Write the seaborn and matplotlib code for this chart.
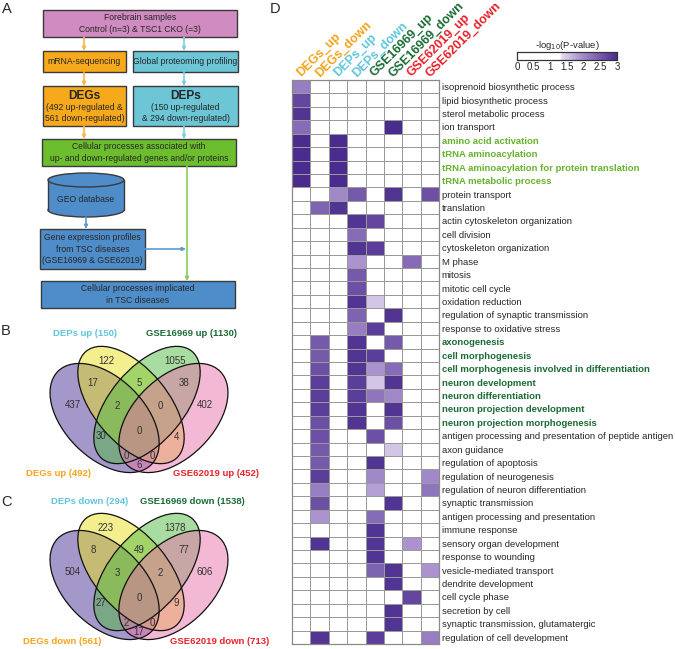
import numpy as np
import pandas as pd
import matplotlib
matplotlib.use('Agg')
import matplotlib.pyplot as plt
import seaborn as sns
from matplotlib.colors import LinearSegmentedColormap
from matplotlib.patches import Rectangle, Ellipse

sns.set_style('white')
plt.rcParams['font.family'] = ['Liberation Sans', 'DejaVu Sans']

W, H = 675, 649

# ---------------- data: heatmap (D) ----------------
datasets = ['DEGs_up', 'DEGs_down', 'DEPs_up', 'DEPs_down',
            'GSE16969_up', 'GSE16969_down', 'GSE62019_up', 'GSE62019_down']
dataset_colors = ['#F5A31A', '#F5A31A', '#5EC6DC', '#5EC6DC',
                  '#1B6B35', '#1B6B35', '#E8212A', '#E8212A']

processes = [
    'isoprenoid biosynthetic process', 'lipid biosynthetic process',
    'sterol metabolic process', 'ion transport', 'amino acid activation',
    'tRNA aminoacylation', 'tRNA aminoacylation for protein translation',
    'tRNA metabolic process', 'protein transport', 'translation',
    'actin cytoskeleton organization', 'cell division',
    'cytoskeleton organization', 'M phase', 'mitosis', 'mitotic cell cycle',
    'oxidation reduction', 'regulation of synaptic transmission',
    'response to oxidative stress', 'axonogenesis', 'cell morphogenesis',
    'cell morphogenesis involved in differentiation', 'neuron development',
    'neuron differentiation', 'neuron projection development',
    'neuron projection morphogenesis',
    'antigen processing and presentation of peptide antigen', 'axon guidance',
    'regulation of apoptosis', 'regulation of neurogenesis',
    'regulation of neuron differentiation', 'synaptic transmission',
    'antigen processing and presentation', 'immune response',
    'sensory organ development', 'response to wounding',
    'vesicle-mediated transport', 'dendrite development', 'cell cycle phase',
    'secretion by cell', 'synaptic transmission, glutamatergic',
    'regulation of cell development']

light_green_terms = ['amino acid activation', 'tRNA aminoacylation',
                     'tRNA aminoacylation for protein translation',
                     'tRNA metabolic process']
dark_green_terms = ['axonogenesis', 'cell morphogenesis',
                    'cell morphogenesis involved in differentiation',
                    'neuron development', 'neuron differentiation',
                    'neuron projection development',
                    'neuron projection morphogenesis']

# -log10(P-value), 0 = not significant
degs_up = [2.1, 2.7, 2.9, 2.3, 3.0, 3.0, 3.0,
           3.0, 0, 0, 0, 0, 0, 0,
           0, 0, 0, 0, 0, 0, 0,
           0, 0, 0, 0, 0, 0, 0,
           0, 0, 0, 0, 0, 0, 0,
           0, 0, 0, 0, 0, 0, 0]
degs_down = [0, 0, 0, 0, 0, 0, 0,
             0, 0, 2.4, 0, 0, 0, 0,
             0, 0, 0, 0, 0, 2.5, 2.5,
             2.6, 2.8, 2.8, 2.8, 2.6, 2.6, 2.5,
             2.5, 2.8, 2.1, 2.6, 1.9, 0, 2.9,
             0, 0, 0, 0, 0, 0, 2.9]
deps_up = [0, 0, 0, 0, 3.0, 3.0, 3.0,
           3.0, 2.0, 2.9, 0, 0, 0, 0,
           0, 0, 0, 0, 0, 0, 0,
           0, 0, 0, 0, 0, 0, 0,
           0, 0, 0, 0, 0, 0, 0,
           0, 0, 0, 0, 0, 0, 0]
deps_down = [0, 0, 0, 0, 0, 0, 0,
             0, 2.5, 0, 2.9, 2.3, 2.9, 1.9,
             2.5, 2.6, 2.9, 2.4, 2.1, 2.9, 2.9,
             2.9, 2.8, 2.8, 2.9, 2.9, 0, 0,
             0, 0, 0, 0, 0, 0, 0,
             0, 0, 0, 0, 0, 0, 0]
gse16969_up = [0, 0, 0, 0, 0, 0, 0,
               0, 0, 0, 2.7, 0, 2.8, 0,
               0, 0, 1.5, 0, 2.8, 0, 2.8,
               1.9, 1.5, 2.2, 0, 0, 2.6, 0,
               2.9, 2.0, 1.8, 0, 2.3, 2.9, 2.9,
               2.9, 2.4, 0, 0, 0, 0, 2.8]
gse16969_down = [0, 0, 0, 3.0, 0, 0, 0,
                 0, 2.9, 0, 0, 0, 0, 0,
                 0, 0, 0, 2.9, 0, 2.5, 0,
                 2.3, 2.9, 2.0, 2.9, 2.6, 0, 1.5,
                 0, 0, 0, 2.9, 0, 0, 0,
                 0, 2.9, 2.9, 0, 2.9, 2.9, 0]
gse62019_up = [0, 0, 0, 0, 0, 0, 0,
               0, 0, 0, 0, 0, 0, 2.3,
               0, 0, 0, 0, 0, 0, 0,
               0, 0, 0, 0, 0, 0, 0,
               0, 0, 0, 0, 0, 0, 1.9,
               0, 0, 0, 2.7, 0, 0, 0]
gse62019_down = [0, 0, 0, 0, 0, 0, 0,
                 0, 2.6, 0, 0, 0, 0, 0,
                 0, 0, 0, 0, 0, 0, 0,
                 0, 0, 0, 0, 0, 0, 0,
                 0, 2.0, 2.2, 0, 0, 0, 0,
                 0, 1.9, 0, 0, 0, 0, 2.1]

cbar_ticks = [0, 0.5, 1, 1.5, 2, 2.5, 3]

# ---------------- data: Venn (B, C) ----------------
# regions: sets involved (D=DEGs, P=DEPs, A=GSE16969, B=GSE62019)
venn_regions = ['P', 'A', 'DP', 'PA', 'AB', 'D', 'DPA', 'PAB', 'B',
                'DA', 'DPAB', 'PB', 'DAB', 'DPB', 'DB']
venn_up = [122, 1055, 17, 5, 38, 437, 2, 0, 402, 30, 0, 4, 0, 0, 6]
venn_down = [223, 1378, 8, 49, 77, 504, 3, 2, 606, 27, 0, 9, 2, 0, 17]
venn_up_titles = ['DEGs up (492)', 'DEPs up (150)', 'GSE16969 up (1130)',
                  'GSE62019 up (452)']
venn_down_titles = ['DEGs down (561)', 'DEPs down (294)',
                    'GSE16969 down (1538)', 'GSE62019 down (713)']

fig = plt.figure(figsize=(W / 100, H / 100), dpi=100)


def px_axes(x0, y0, x1, y1):
    return fig.add_axes([x0 / W, 1 - y1 / H, (x1 - x0) / W, (y1 - y0) / H])


# overlay in pixel coordinates for flowchart, venns & labels
ax0 = px_axes(0, 0, W, H)
ax0.set_xlim(0, W)
ax0.set_ylim(H, 0)
ax0.axis('off')

for letter, (x, y) in zip('ABCD', [(7, 9), (6, 331), (7, 502), (275, 9)]):
    ax0.text(x, y, letter, fontsize=10.5, ha='center', va='center')

# ---------------- A: flowchart ----------------
edge = '#3a3a3a'
orange, cyan, green, blue, pink = '#F6A91B', '#6CC6D6', '#6CBE2E', '#4F8DCA', '#D08BC1'


def box(x0, y0, x1, y1, color):
    ax0.add_patch(Rectangle((x0, y0), x1 - x0, y1 - y0, facecolor=color,
                            edgecolor=edge, lw=1.0))


def arrow(x0, y0, x1, y1, color):
    ax0.annotate('', xy=(x1, y1), xytext=(x0, y0),
                 arrowprops=dict(arrowstyle='-|>', color=color, lw=1.2,
                                 mutation_scale=5, shrinkA=0, shrinkB=0))


fs = 6.2
box(43, 10, 237, 37, pink)
ax0.text(140, 23.5, 'Forebrain samples\nControl (n=3) & TSC1 CKO (=3)',
         ha='center', va='center', fontsize=fs, linespacing=1.35)
box(43, 51, 126, 72, orange)
ax0.text(84.5, 61.5, 'mRNA-sequencing', ha='center', va='center', fontsize=fs)
box(133, 51, 238, 72, cyan)
ax0.text(185.5, 61.5, 'Global proteoming profiling', ha='center',
         va='center', fontsize=fs)
box(43, 86, 126, 126, orange)
ax0.text(84.5, 96, 'DEGs', ha='center', va='center', fontsize=8.6,
         fontweight='bold')
ax0.text(84.5, 113, '(492 up-regulated &\n561 down-regulated)', ha='center',
         va='center', fontsize=fs, linespacing=1.3)
box(133, 86, 238, 126, cyan)
ax0.text(185.5, 96, 'DEPs', ha='center', va='center', fontsize=8.6,
         fontweight='bold')
ax0.text(185.5, 113, '(150 up-regulated\n& 294 down-regulated)', ha='center',
         va='center', fontsize=fs, linespacing=1.3)
box(42, 139, 236, 166, green)
ax0.text(139, 152.5, 'Cellular processes associated with\n'
         'up- and down-regulated genes and/or proteins',
         ha='center', va='center', fontsize=fs, linespacing=1.35)

# GEO cylinder
ax0.add_patch(Ellipse((86, 210), 76, 14, facecolor=blue, edgecolor=edge, lw=1.0))
ax0.add_patch(Rectangle((48, 180), 76, 30, facecolor=blue, edgecolor='none'))
ax0.plot([48, 48], [180, 210], color=edge, lw=1.0)
ax0.plot([124, 124], [180, 210], color=edge, lw=1.0)
ax0.add_patch(Ellipse((86, 180), 76, 14, facecolor=blue, edgecolor=edge, lw=1.0))
ax0.text(86, 199, 'GEO database', ha='center', va='center', fontsize=fs)

box(40, 229, 145, 269, blue)
ax0.text(92.5, 249, 'Gene expression profiles\nfrom TSC diseases\n'
         '(GSE16969 & GSE62019)', ha='center', va='center', fontsize=fs,
         linespacing=1.3)
box(41, 281, 235, 308, blue)
ax0.text(138, 294.5, 'Cellular processes implicated\nin TSC diseases',
         ha='center', va='center', fontsize=fs, linespacing=1.35)

arrow(84, 37, 84, 51, '#F8B54A')
arrow(84, 72, 84, 86, '#F8B54A')
arrow(84, 126, 84, 139, '#F8B54A')
arrow(184, 37, 184, 51, '#7DCFE0')
arrow(184, 72, 184, 86, '#7DCFE0')
arrow(184, 126, 184, 139, '#7DCFE0')
arrow(86, 217, 86, 229, '#5B9AD6')
arrow(145, 249, 186, 249, '#5B9AD6')
arrow(187, 166, 187, 281, '#8CCB5E')

# ---------------- B, C: Venn diagrams ----------------
# ellipse geometry relative to the venn's bottom-centre point (pixels, y down)
set_keys = ['D', 'P', 'A', 'B']
ell_specs = [((-34.4, -52), 132, 80, 45, '#4B3197'),
             ((-8, -65), 140, 74, 50, '#E8E020'),
             ((8, -65), 140, 74, -50, '#52BA45'),
             ((34.4, -52), 132, 80, -45, '#E872AA')]
# preferred label spots, nudged into their region if too close to an edge
label_target = {'P': (-33, -109), 'A': (36, -109), 'DP': (-46, -87),
                'PA': (0, -87), 'AB': (45, -87), 'D': (-66, -65),
                'DPA': (-22, -64), 'PAB': (21, -64), 'B': (66, -65),
                'DA': (-37, -35), 'DPAB': (0, -39), 'PB': (36, -35),
                'DAB': (-13, -20), 'DPB': (14, -20), 'DB': (0, -7)}
title_colors = ['#F5A31A', '#5EC6DC', '#1B6B35', '#E8212A']

gx, gy = np.meshgrid(np.arange(-100, 100, 0.5), np.arange(-130, 5, 0.5))
inside, clear = [], []
for (cx, cy), w, h, ang, _ in ell_specs:
    t = np.deg2rad(ang)
    du, dv = gx - cx, gy - cy
    pu = du * np.cos(t) + dv * np.sin(t)
    pv = -du * np.sin(t) + dv * np.cos(t)
    a, b = w / 2, h / 2
    f = (pu / a) ** 2 + (pv / b) ** 2
    grad = 2 * np.sqrt((pu / a ** 2) ** 2 + (pv / b ** 2) ** 2) + 1e-9
    inside.append(f < 1)
    clear.append(np.abs(f - 1) / grad)
clearance = np.min(clear, axis=0)

label_off = {}
for reg, (tx, ty) in label_target.items():
    mask = np.ones_like(gx, dtype=bool)
    for k, ins in zip(set_keys, inside):
        mask &= ins if k in reg else ~ins
    ok = mask & (clearance >= 5.5)
    if not ok.any():
        ok = mask & (clearance >= clearance[mask].max() - 0.5)
    d = np.where(ok, (gx - tx) ** 2 + (gy - ty) ** 2, np.inf)
    i = np.unravel_index(np.argmin(d), d.shape)
    label_off[reg] = (gx[i], gy[i])


def draw_venn(ox, oy, counts, titles, title_xy):
    for (dx, dy), w, h, a, col in ell_specs:
        ax0.add_patch(Ellipse((ox + dx, oy + dy), w, h, angle=a,
                              facecolor=col, alpha=0.5, edgecolor='none'))
    for (dx, dy), w, h, a, col in ell_specs:
        ax0.add_patch(Ellipse((ox + dx, oy + dy), w, h, angle=a, fill=False,
                              edgecolor='#111111', lw=0.9))
    for reg, n in zip(venn_regions, counts):
        dx, dy = label_off[reg]
        ax0.text(ox + dx, oy + dy, str(n), ha='center', va='center',
                 fontsize=7, color='#333333')
    for t, col, (x, y) in zip(titles, title_colors, title_xy):
        ax0.text(x, y, t, ha='center', va='center', fontsize=6.8,
                 fontweight='bold', color=col)


draw_venn(139, 470, venn_up, venn_up_titles,
          [(58, 474), (85, 333), (192, 333), (216, 474)])
draw_venn(139, 637, venn_down, venn_down_titles,
          [(62, 642), (90, 501), (192, 501), (220, 642)])

# ---------------- D: heatmap ----------------
df = pd.DataFrame({'DEGs_up': degs_up, 'DEGs_down': degs_down,
                   'DEPs_up': deps_up, 'DEPs_down': deps_down,
                   'GSE16969_up': gse16969_up, 'GSE16969_down': gse16969_down,
                   'GSE62019_up': gse62019_up, 'GSE62019_down': gse62019_down},
                  index=processes)[datasets]

cmap = LinearSegmentedColormap.from_list(
    'pv', [(0, '#FFFFFF'), (0.43, '#FFFFFF'), (0.45, '#E3D9F0'),
           (0.65, '#A58DCB'), (1.0, '#4A2B8E')])

axh = px_axes(292, 80, 439, 644)
cax = px_axes(517, 52, 617, 60)
sns.heatmap(df, ax=axh, cmap=cmap, vmin=0, vmax=3, linewidths=0.7,
            linecolor='#9a9a9a', cbar_ax=cax,
            cbar_kws={'orientation': 'horizontal', 'ticks': cbar_ticks})
for sp in axh.spines.values():
    sp.set_visible(True)
    sp.set_color('#8a8a8a')
    sp.set_linewidth(0.9)

axh.yaxis.tick_right()
axh.set_yticks(np.arange(len(processes)) + 0.5)
axh.set_yticklabels(processes, rotation=0, fontsize=6.8)
for lab in axh.get_yticklabels():
    t = lab.get_text()
    if t in light_green_terms:
        lab.set_color('#66B32E')
        lab.set_fontweight('bold')
    elif t in dark_green_terms:
        lab.set_color('#1B6B35')
        lab.set_fontweight('bold')

axh.xaxis.tick_top()
axh.set_xticks(np.arange(len(datasets)) + 0.5)
axh.set_xticklabels(datasets, rotation=45, ha='left', va='baseline',
                    rotation_mode='anchor', fontsize=9, fontweight='bold')
for lab, col in zip(axh.get_xticklabels(), dataset_colors):
    lab.set_color(col)
axh.tick_params(length=0, pad=2)
axh.set_xlabel('')
axh.set_ylabel('')

cax.set_xticklabels(['0', '0.5', '1', '1.5', '2', '2.5', '3'])
cax.tick_params(labelsize=7, length=2, width=0.6, direction='in', pad=1.5)
cax.set_title('-log$_{10}$(P-value)', fontsize=6.8, pad=3)
for sp in cax.spines.values():
    sp.set_visible(True)
    sp.set_color('#333333')
    sp.set_linewidth(0.8)

fig.savefig('out.png', dpi=100)
